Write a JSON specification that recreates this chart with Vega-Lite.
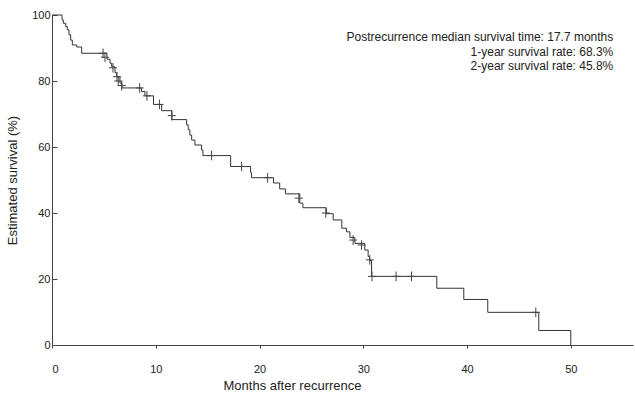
{
  "$schema": "https://vega.github.io/schema/vega-lite/v6.json",
  "width": 581,
  "height": 330,
  "autosize": {"type": "none"},
  "padding": {"left": 52, "top": 15, "right": 2, "bottom": 55},
  "background": "white",
  "config": {
    "view": {"stroke": null},
    "font": "Liberation Sans",
    "axis": {
      "grid": false,
      "domainColor": "#444",
      "tickColor": "#444",
      "labelColor": "#222",
      "titleColor": "#222",
      "labelFont": "Liberation Sans",
      "titleFont": "Liberation Sans",
      "labelFontSize": 11,
      "titleFontSize": 13,
      "titleFontWeight": "normal"
    }
  },
  "datasets": {
    "curve": [
      {"time": 0, "surv": 100},
      {"time": 0.965, "surv": 98.5},
      {"time": 1.088, "surv": 97.5},
      {"time": 1.324, "surv": 96.5},
      {"time": 1.476, "surv": 95.5},
      {"time": 1.637, "surv": 94},
      {"time": 1.797, "surv": 92.4},
      {"time": 1.958, "surv": 90.9},
      {"time": 2.384, "surv": 90.3},
      {"time": 2.857, "surv": 88.4},
      {"time": 5.298, "surv": 86.6},
      {"time": 5.591, "surv": 85.4},
      {"time": 5.752, "surv": 84.3},
      {"time": 6.073, "surv": 82.5},
      {"time": 6.234, "surv": 81.3},
      {"time": 6.546, "surv": 79.4},
      {"time": 6.745, "surv": 77.9},
      {"time": 8.637, "surv": 76.8},
      {"time": 8.959, "surv": 75.5},
      {"time": 9.782, "surv": 72.9},
      {"time": 10.567, "surv": 71.0},
      {"time": 11.56, "surv": 68.3},
      {"time": 12.979, "surv": 66.7},
      {"time": 13.13, "surv": 65.2},
      {"time": 13.291, "surv": 63.6},
      {"time": 13.462, "surv": 62.1},
      {"time": 13.774, "surv": 60.6},
      {"time": 14.417, "surv": 59.1},
      {"time": 14.549, "surv": 57.4},
      {"time": 17.217, "surv": 54.1},
      {"time": 19.138, "surv": 52.3},
      {"time": 19.232, "surv": 50.7},
      {"time": 21.351, "surv": 49.1},
      {"time": 21.947, "surv": 47.3},
      {"time": 22.496, "surv": 45.8},
      {"time": 23.887, "surv": 43.0},
      {"time": 24.18, "surv": 41.6},
      {"time": 26.441, "surv": 39.8},
      {"time": 27.103, "surv": 37.9},
      {"time": 27.935, "surv": 35.4},
      {"time": 28.38, "surv": 34.3},
      {"time": 28.711, "surv": 32.6},
      {"time": 29.194, "surv": 30.8},
      {"time": 30.149, "surv": 28.8},
      {"time": 30.471, "surv": 26.8},
      {"time": 30.603, "surv": 25.6},
      {"time": 30.802, "surv": 20.8},
      {"time": 37.09, "surv": 17.2},
      {"time": 39.69, "surv": 13.8},
      {"time": 42.0, "surv": 9.9},
      {"time": 46.92, "surv": 4.4},
      {"time": 50.0, "surv": 0}
    ],
    "censor": [
      {"time": 4.919, "surv": 88.4},
      {"time": 5.108, "surv": 87.2},
      {"time": 5.875, "surv": 84.0},
      {"time": 6.263, "surv": 81.3},
      {"time": 6.386, "surv": 80.0},
      {"time": 6.717, "surv": 78.6},
      {"time": 8.448, "surv": 77.9},
      {"time": 9.148, "surv": 75.5},
      {"time": 10.359, "surv": 72.9},
      {"time": 11.541, "surv": 69.5},
      {"time": 15.382, "surv": 57.4},
      {"time": 18.277, "surv": 54.1},
      {"time": 20.784, "surv": 50.7},
      {"time": 23.792, "surv": 44.5},
      {"time": 26.394, "surv": 40.0},
      {"time": 29.023, "surv": 31.8},
      {"time": 29.837, "surv": 30.3},
      {"time": 30.632, "surv": 25.8},
      {"time": 30.84, "surv": 20.8},
      {"time": 33.167, "surv": 20.8},
      {"time": 34.652, "surv": 20.8},
      {"time": 46.63, "surv": 9.9}
    ],
    "notes": [
      {"note": "Postrecurrence median survival time: 17.7 months\n1-year survival rate: 68.3%\n2-year survival rate: 45.8%"}
    ]
  },
  "layer": [
    {
      "data": {"name": "curve"},
      "mark": {"type": "line", "interpolate": "step-after", "color": "#333", "strokeWidth": 1},
      "encoding": {
        "x": {
          "field": "time", "type": "quantitative",
          "scale": {"domain": [0, 56], "nice": false, "zero": true},
          "axis": {
            "title": "Months after recurrence",
            "values": [0, 10, 20, 30, 40, 50],
            "tickSize": 3,
            "labelPadding": 15,
            "titlePadding": 5,
            "titleX": 240
          }
        },
        "y": {
          "field": "surv", "type": "quantitative",
          "scale": {"domain": [0, 100], "nice": false},
          "axis": {
            "title": "Estimated survival (%)",
            "values": [0, 20, 40, 60, 80, 100],
            "tickSize": -5,
            "labelPadding": 7,
            "titlePadding": 12
          }
        }
      }
    },
    {
      "data": {"name": "censor"},
      "mark": {"type": "point", "shape": "M-1,0H1M0,-1.2V1.2", "size": 64, "filled": false, "color": "#444", "strokeWidth": 1, "opacity": 1},
      "encoding": {
        "x": {"field": "time", "type": "quantitative"},
        "y": {"field": "surv", "type": "quantitative"}
      }
    },
    {
      "data": {"name": "notes"},
      "mark": {"type": "text", "align": "right", "baseline": "top", "lineBreak": "\n", "lineHeight": 14.5, "fontSize": 12, "color": "#222", "font": "Liberation Sans"},
      "encoding": {
        "x": {"datum": 54.1, "type": "quantitative"},
        "y": {"datum": 94.8, "type": "quantitative"},
        "text": {"field": "note"}
      }
    }
  ]
}
